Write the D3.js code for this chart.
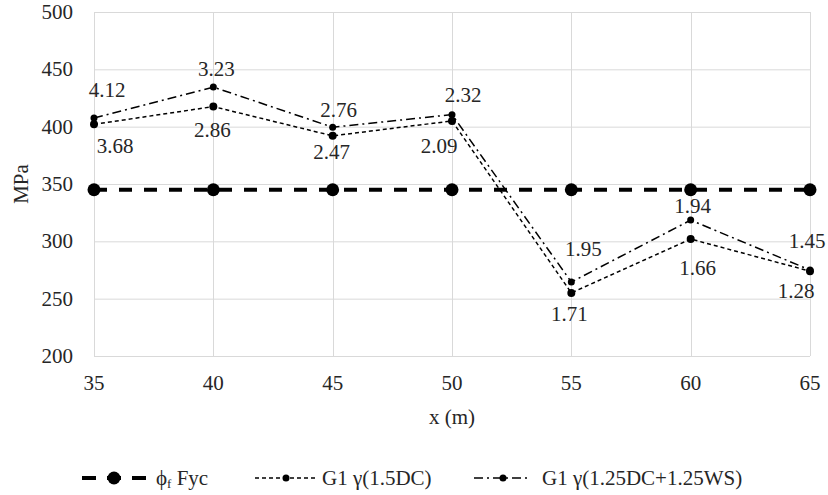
<!DOCTYPE html>
<html>
<head>
<meta charset="utf-8">
<style>
    body { margin: 0; background: #fff; }
    svg { display: block; font-family: 'Liberation Serif', 'Times New Roman', serif; }
    .grid line { stroke: #d9d9d9; stroke-width: 1; }
    .tick-label { font-size: 21px; fill: #262626; }
    .axis-title { font-size: 21px; fill: #262626; }
    .data-label { font-size: 21px; fill: #262626; }
    .legend text { font-size: 21px; fill: #262626; }
</style>
</head>
<body>
<svg width="828" height="495"></svg>
<script src="https://d3js.org/d3.v7.min.js"></script>
<script>
    // chart values
    let xValues = [35, 40, 45, 50, 55, 60, 65];
    let yTicks = [200, 250, 300, 350, 400, 450, 500];
    let fycValues = [345, 345, 345, 345, 345, 345, 345];
    let dcValues = [402, 417.5, 392, 405, 255, 302, 274];
    let wsValues = [407.5, 434.5, 399.5, 410.5, 264.5, 318.5, 275];
    let dcLabels = ["3.68", "2.86", "2.47", "2.09", "1.71", "1.66", "1.28"];
    let wsLabels = ["4.12", "3.23", "2.76", "2.32", "1.95", "1.94", "1.45"];
    let seriesNames = ["\u03d5f Fyc", "G1 \u03b3(1.5DC)", "G1 \u03b3(1.25DC+1.25WS)"];

    // label nudges (pixels), picked to sit where the original put them
    let wsLabelDx = [13, 3, 6, 11, 12, 2, -3];
    let wsLabelDy = [-21, -11, -10, -13, -26, -7, -22];
    let dcLabelDx = [21, -1, -1, -13, -2, 7, -14];
    let dcLabelDy = [29, 30, 23, 32, 28, 36, 27];

    let svg = d3.select("svg");

    let x = d3.scaleLinear().domain([35, 65]).range([94, 810]);
    let y = d3.scaleLinear().domain([200, 500]).range([356, 12]);

    // gridlines
    let grid = svg.append("g").attr("class", "grid");
    grid.selectAll(".h")
        .data(yTicks)
        .join("line")
        .attr("x1", x(35)).attr("x2", x(65))
        .attr("y1", d => y(d) + 0.5).attr("y2", d => y(d) + 0.5);
    grid.selectAll(".v")
        .data(xValues)
        .join("line")
        .attr("x1", d => Math.round(x(d)) + 0.5).attr("x2", d => Math.round(x(d)) + 0.5)
        .attr("y1", y(500)).attr("y2", y(200));

    // tick labels
    svg.append("g").selectAll("text")
        .data(yTicks)
        .join("text")
        .attr("class", "tick-label")
        .attr("x", 73)
        .attr("y", d => y(d) + 7)
        .attr("text-anchor", "end")
        .text(d => d);

    svg.append("g").selectAll("text")
        .data(xValues)
        .join("text")
        .attr("class", "tick-label")
        .attr("x", d => x(d))
        .attr("y", 390)
        .attr("text-anchor", "middle")
        .text(d => d);

    svg.append("text")
        .attr("class", "axis-title")
        .attr("x", (x(35) + x(65)) / 2)
        .attr("y", 424)
        .attr("text-anchor", "middle")
        .text("x (m)");

    svg.append("text")
        .attr("class", "axis-title")
        .attr("transform", `translate(28,${(y(200) + y(500)) / 2}) rotate(-90)`)
        .attr("text-anchor", "middle")
        .text("MPa");

    let line = d3.line()
        .x((d, i) => x(xValues[i]))
        .y(d => y(d));

    // phi_f Fyc
    svg.append("path")
        .datum(fycValues)
        .attr("d", line)
        .attr("fill", "none")
        .attr("stroke", "#000")
        .attr("stroke-width", 4)
        .attr("stroke-dasharray", "13,12");
    svg.append("g").selectAll("circle")
        .data(fycValues)
        .join("circle")
        .attr("cx", (d, i) => x(xValues[i]))
        .attr("cy", d => y(d))
        .attr("r", 6.5)
        .attr("fill", "#000");

    // G1 1.5DC
    svg.append("path")
        .datum(dcValues)
        .attr("d", line)
        .attr("fill", "none")
        .attr("stroke", "#000")
        .attr("stroke-width", 1.5)
        .attr("stroke-dasharray", "4,3");
    svg.append("g").selectAll("circle")
        .data(dcValues)
        .join("circle")
        .attr("cx", (d, i) => x(xValues[i]))
        .attr("cy", d => y(d))
        .attr("r", 4)
        .attr("fill", "#000");

    // G1 1.25DC+1.25WS
    svg.append("path")
        .datum(wsValues)
        .attr("d", line)
        .attr("fill", "none")
        .attr("stroke", "#000")
        .attr("stroke-width", 1.5)
        .attr("stroke-dasharray", "9,4,2,4");
    svg.append("g").selectAll("circle")
        .data(wsValues)
        .join("circle")
        .attr("cx", (d, i) => x(xValues[i]))
        .attr("cy", d => y(d))
        .attr("r", 3.5)
        .attr("fill", "#000");

    // data labels
    svg.append("g").selectAll("text")
        .data(wsValues)
        .join("text")
        .attr("class", "data-label")
        .attr("x", (d, i) => x(xValues[i]) + wsLabelDx[i])
        .attr("y", (d, i) => y(d) + wsLabelDy[i])
        .attr("text-anchor", "middle")
        .text((d, i) => wsLabels[i]);

    svg.append("g").selectAll("text")
        .data(dcValues)
        .join("text")
        .attr("class", "data-label")
        .attr("x", (d, i) => x(xValues[i]) + dcLabelDx[i])
        .attr("y", (d, i) => y(d) + dcLabelDy[i])
        .attr("text-anchor", "middle")
        .text((d, i) => dcLabels[i]);

    // legend
    let legend = svg.append("g").attr("class", "legend");
    let ly = 478;

    legend.append("line")
        .attr("x1", 82).attr("x2", 146).attr("y1", ly).attr("y2", ly)
        .attr("stroke", "#000").attr("stroke-width", 4)
        .attr("stroke-dasharray", "14,11,14,11");
    legend.append("circle").attr("cx", 114).attr("cy", ly).attr("r", 6.5).attr("fill", "#000");
    let t1 = legend.append("text").attr("x", 156).attr("y", ly + 7);
    t1.append("tspan").text(seriesNames[0].slice(0, 1));
    t1.append("tspan").attr("font-size", 13).attr("dy", 3).text(seriesNames[0].slice(1, 2));
    t1.append("tspan").attr("dy", -3).text(seriesNames[0].slice(2));

    legend.append("line")
        .attr("x1", 255).attr("x2", 318).attr("y1", ly).attr("y2", ly)
        .attr("stroke", "#000").attr("stroke-width", 1.5)
        .attr("stroke-dasharray", "4,3");
    legend.append("circle").attr("cx", 286).attr("cy", ly).attr("r", 3.5).attr("fill", "#000");
    legend.append("text").attr("x", 322).attr("y", ly + 7).text(seriesNames[1]);

    legend.append("line")
        .attr("x1", 474).attr("x2", 530).attr("y1", ly).attr("y2", ly)
        .attr("stroke", "#000").attr("stroke-width", 1.5)
        .attr("stroke-dasharray", "9,4,2,4");
    legend.append("circle").attr("cx", 503).attr("cy", ly).attr("r", 3.5).attr("fill", "#000");
    legend.append("text").attr("x", 542).attr("y", ly + 7).text(seriesNames[2]);
</script>
</body>
</html>
